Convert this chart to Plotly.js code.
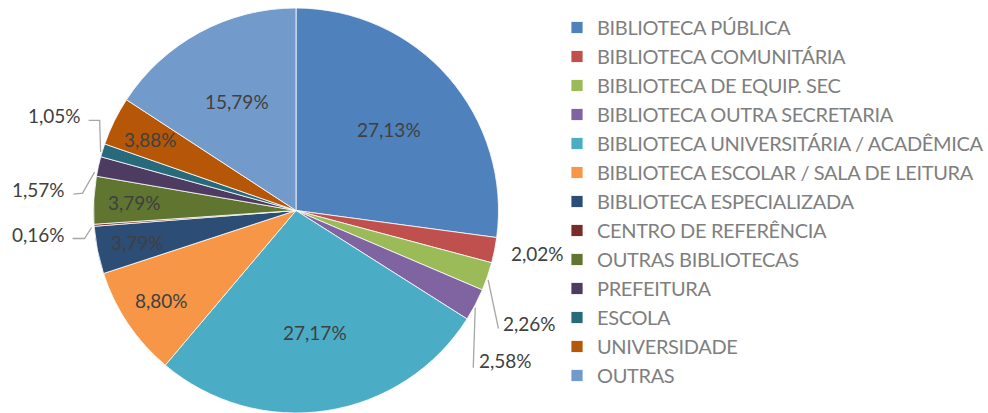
<!DOCTYPE html>
<html><head><meta charset="utf-8">
<script src="https://cdn.plot.ly/plotly-3.0.1.min.js"></script>
<style>
html,body{margin:0;padding:0;background:#fff}
#chart{width:988px;height:413px}
.legendtext{letter-spacing:-0.35px}
</style>
</head><body><div id="chart"></div>
<script>
// ---- data ----
const categories = [
  'BIBLIOTECA PÚBLICA',
  'BIBLIOTECA COMUNITÁRIA',
  'BIBLIOTECA DE EQUIP. SEC',
  'BIBLIOTECA OUTRA SECRETARIA',
  'BIBLIOTECA UNIVERSITÁRIA / ACADÊMICA',
  'BIBLIOTECA ESCOLAR / SALA DE LEITURA',
  'BIBLIOTECA ESPECIALIZADA',
  'CENTRO DE REFERÊNCIA',
  'OUTRAS BIBLIOTECAS',
  'PREFEITURA',
  'ESCOLA',
  'UNIVERSIDADE',
  'OUTRAS'
];
const shares = [27.13, 2.02, 2.26, 2.58, 27.17, 8.80, 3.79, 0.16, 3.79, 1.57, 1.05, 3.88, 15.79];

// ---- style ----
const colors = ['#4F81BD','#C0504D','#9BBB59','#8064A2','#4BACC6','#F79646','#2C4D75',
                '#772C2A','#5F7530','#4D3B62','#276A7C','#B65708','#729ACA'];
const W = 988, H = 413, M = {l: 0, r: 0, t: 8, b: 0, autoexpand: false};
const pieDomainX = [0, 592 / W];
const FONT = 'Lato, "Open Sans", sans-serif';
// outside-label callouts (pixel offsets relative to slice edge point)
const callouts = {
  1:  {label: [14, 3],   anchor: 'left',  path: null},
  2:  {label: [14, 47],  anchor: 'left',  path: [[0.7, 3.5], [11, 52]]},
  3:  {label: [2, 56],   anchor: 'left',  path: [[0, 3], [-2, 63]]},
  7:  {label: [-27, 9],  anchor: 'right', path: [[-2.5, 2.2], [-9.5, 13.2], [-21.5, 13.2]]},
  9:  {label: [-31, 23], anchor: 'right', path: [[-3.8, 5.7], [-15.8, 26.7], [-24.8, 27.7]]},
  10: {label: [-20, -35],anchor: 'right', path: [[-2, 1.7], [-3, -30], [-14, -30]]}
};

// ---- geometry derived from the pie's own domain ----
const plotW = W - M.l - M.r, plotH = H - M.t - M.b;
const R = Math.min(plotW * (pieDomainX[1] - pieDomainX[0]), plotH) / 2;
const cx = M.l + plotW * (pieDomainX[0] + pieDomainX[1]) / 2;
const cy = M.t + plotH / 2;
const px2x = p => (p - M.l) / plotW;
const py2y = p => 1 - (p - M.t) / plotH;
const fmt = v => v.toFixed(2).replace('.', ',') + '%';

const total = shares.reduce((a, b) => a + b, 0);
const annotations = [], shapes = [];
let cum = 0;
shares.forEach((v, i) => {
  const th = 2 * Math.PI * (cum + v / 2) / total;
  cum += v;
  const sx = Math.sin(th), sy = -Math.cos(th);
  const c = callouts[i];
  if (!c) {
    const frac = v > 10 ? 0.61 : 0.8;
    annotations.push({
      x: px2x(cx + frac * R * sx), y: py2y(cy + frac * R * sy),
      xref: 'paper', yref: 'paper', text: fmt(v), showarrow: false,
      xanchor: 'center', yanchor: 'middle',
      font: {family: FONT, size: 19, color: '#404040'}
    });
  } else {
    const ex = cx + R * sx, ey = cy + R * sy;
    annotations.push({
      x: px2x(ex + c.label[0]), y: py2y(ey + c.label[1]),
      xref: 'paper', yref: 'paper', text: fmt(v), showarrow: false,
      xanchor: c.anchor, yanchor: 'middle',
      font: {family: FONT, size: 19, color: '#404040'}
    });
    if (c.path) {
      const d = c.path.map((p, k) => (k ? 'L' : 'M') + px2x(ex + p[0]).toFixed(5) + ',' + py2y(ey + p[1]).toFixed(5)).join(' ');
      shapes.push({type: 'path', xref: 'paper', yref: 'paper', path: d,
                   line: {color: '#A6A6A6', width: 1.3}});
    }
  }
});

const trace = {
  type: 'pie',
  labels: categories,
  values: shares,
  sort: false,
  direction: 'clockwise',
  rotation: 0,
  textinfo: 'none',
  hoverinfo: 'skip',
  domain: {x: pieDomainX, y: [0, 1]},
  marker: {colors: colors, line: {color: '#ffffff', width: 0.8}}
};

const layout = {
  width: W, height: H,
  margin: M,
  paper_bgcolor: '#ffffff',
  showlegend: true,
  legend: {
    x: 557 / W, xanchor: 'left', y: 1, yanchor: 'top',
    font: {family: FONT, size: 20, color: '#7F7F7F'},
    bgcolor: 'rgba(0,0,0,0)'
  },
  annotations: annotations,
  shapes: shapes
};

Plotly.newPlot('chart', [trace], layout, {displayModeBar: false, staticPlot: true});
</script>
</body></html>
